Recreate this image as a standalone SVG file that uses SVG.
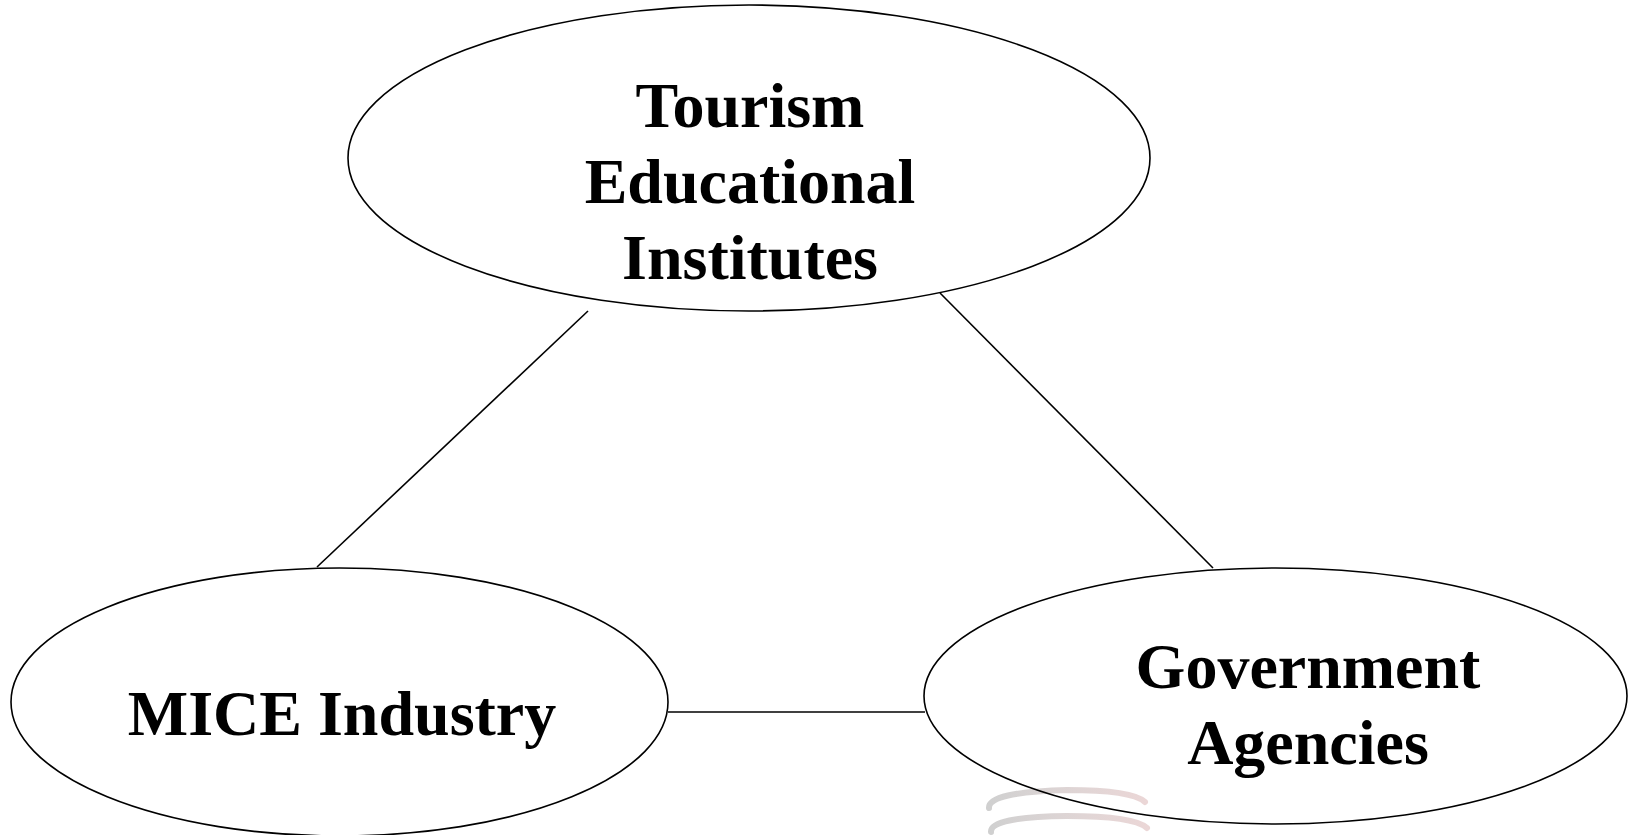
<svg xmlns="http://www.w3.org/2000/svg" width="1630" height="835" viewBox="0 0 1630 835">
  <style>
    .node { fill: none; stroke: #000000; stroke-width: 1.6; }
    .conn { stroke: #000000; stroke-width: 1.6; fill: none; }
    .label { font-family: "Liberation Serif", "Times New Roman", serif; font-weight: bold; font-size: 64px; fill: #000000; text-anchor: middle; }
    .mark { fill: none; stroke-linecap: round; stroke-width: 6; opacity: 0.42; }
  </style>
  <defs>
    <linearGradient id="wm" x1="0" y1="0" x2="1" y2="0">
      <stop offset="0" stop-color="#8f8f8f"/>
      <stop offset="0.5" stop-color="#b09a9a"/>
      <stop offset="1" stop-color="#cf9f9f"/>
    </linearGradient>
  </defs>
  <rect width="1630" height="835" fill="#ffffff"/>
  <g id="watermark">
    <path class="mark" stroke="url(#wm)" d="M989 808 Q988 792 1067 790 Q1132 790 1145 802"/>
    <path class="mark" stroke="url(#wm)" d="M991 832 Q990 817 1067 816 Q1134 816 1147 828"/>
  </g>
  <g id="connectors">
    <line class="conn" x1="588" y1="311" x2="317" y2="567"/>
    <line class="conn" x1="940" y1="293" x2="1213" y2="568"/>
    <line class="conn" x1="668" y1="712" x2="925" y2="712"/>
  </g>
  <g id="node-tourism">
    <ellipse class="node" cx="749" cy="158" rx="401" ry="153"/>
    <text class="label" x="750" y="127">Tourism</text>
    <text class="label" x="750" y="203">Educational</text>
    <text class="label" x="750" y="279">Institutes</text>
  </g>
  <g id="node-mice">
    <ellipse class="node" cx="339.5" cy="702" rx="328.5" ry="134"/>
    <text class="label" x="342" y="735">MICE Industry</text>
  </g>
  <g id="node-government">
    <ellipse class="node" cx="1275.5" cy="696" rx="351.5" ry="128"/>
    <text class="label" x="1308" y="688">Government</text>
    <text class="label" x="1308" y="764">Agencies</text>
  </g>
</svg>
